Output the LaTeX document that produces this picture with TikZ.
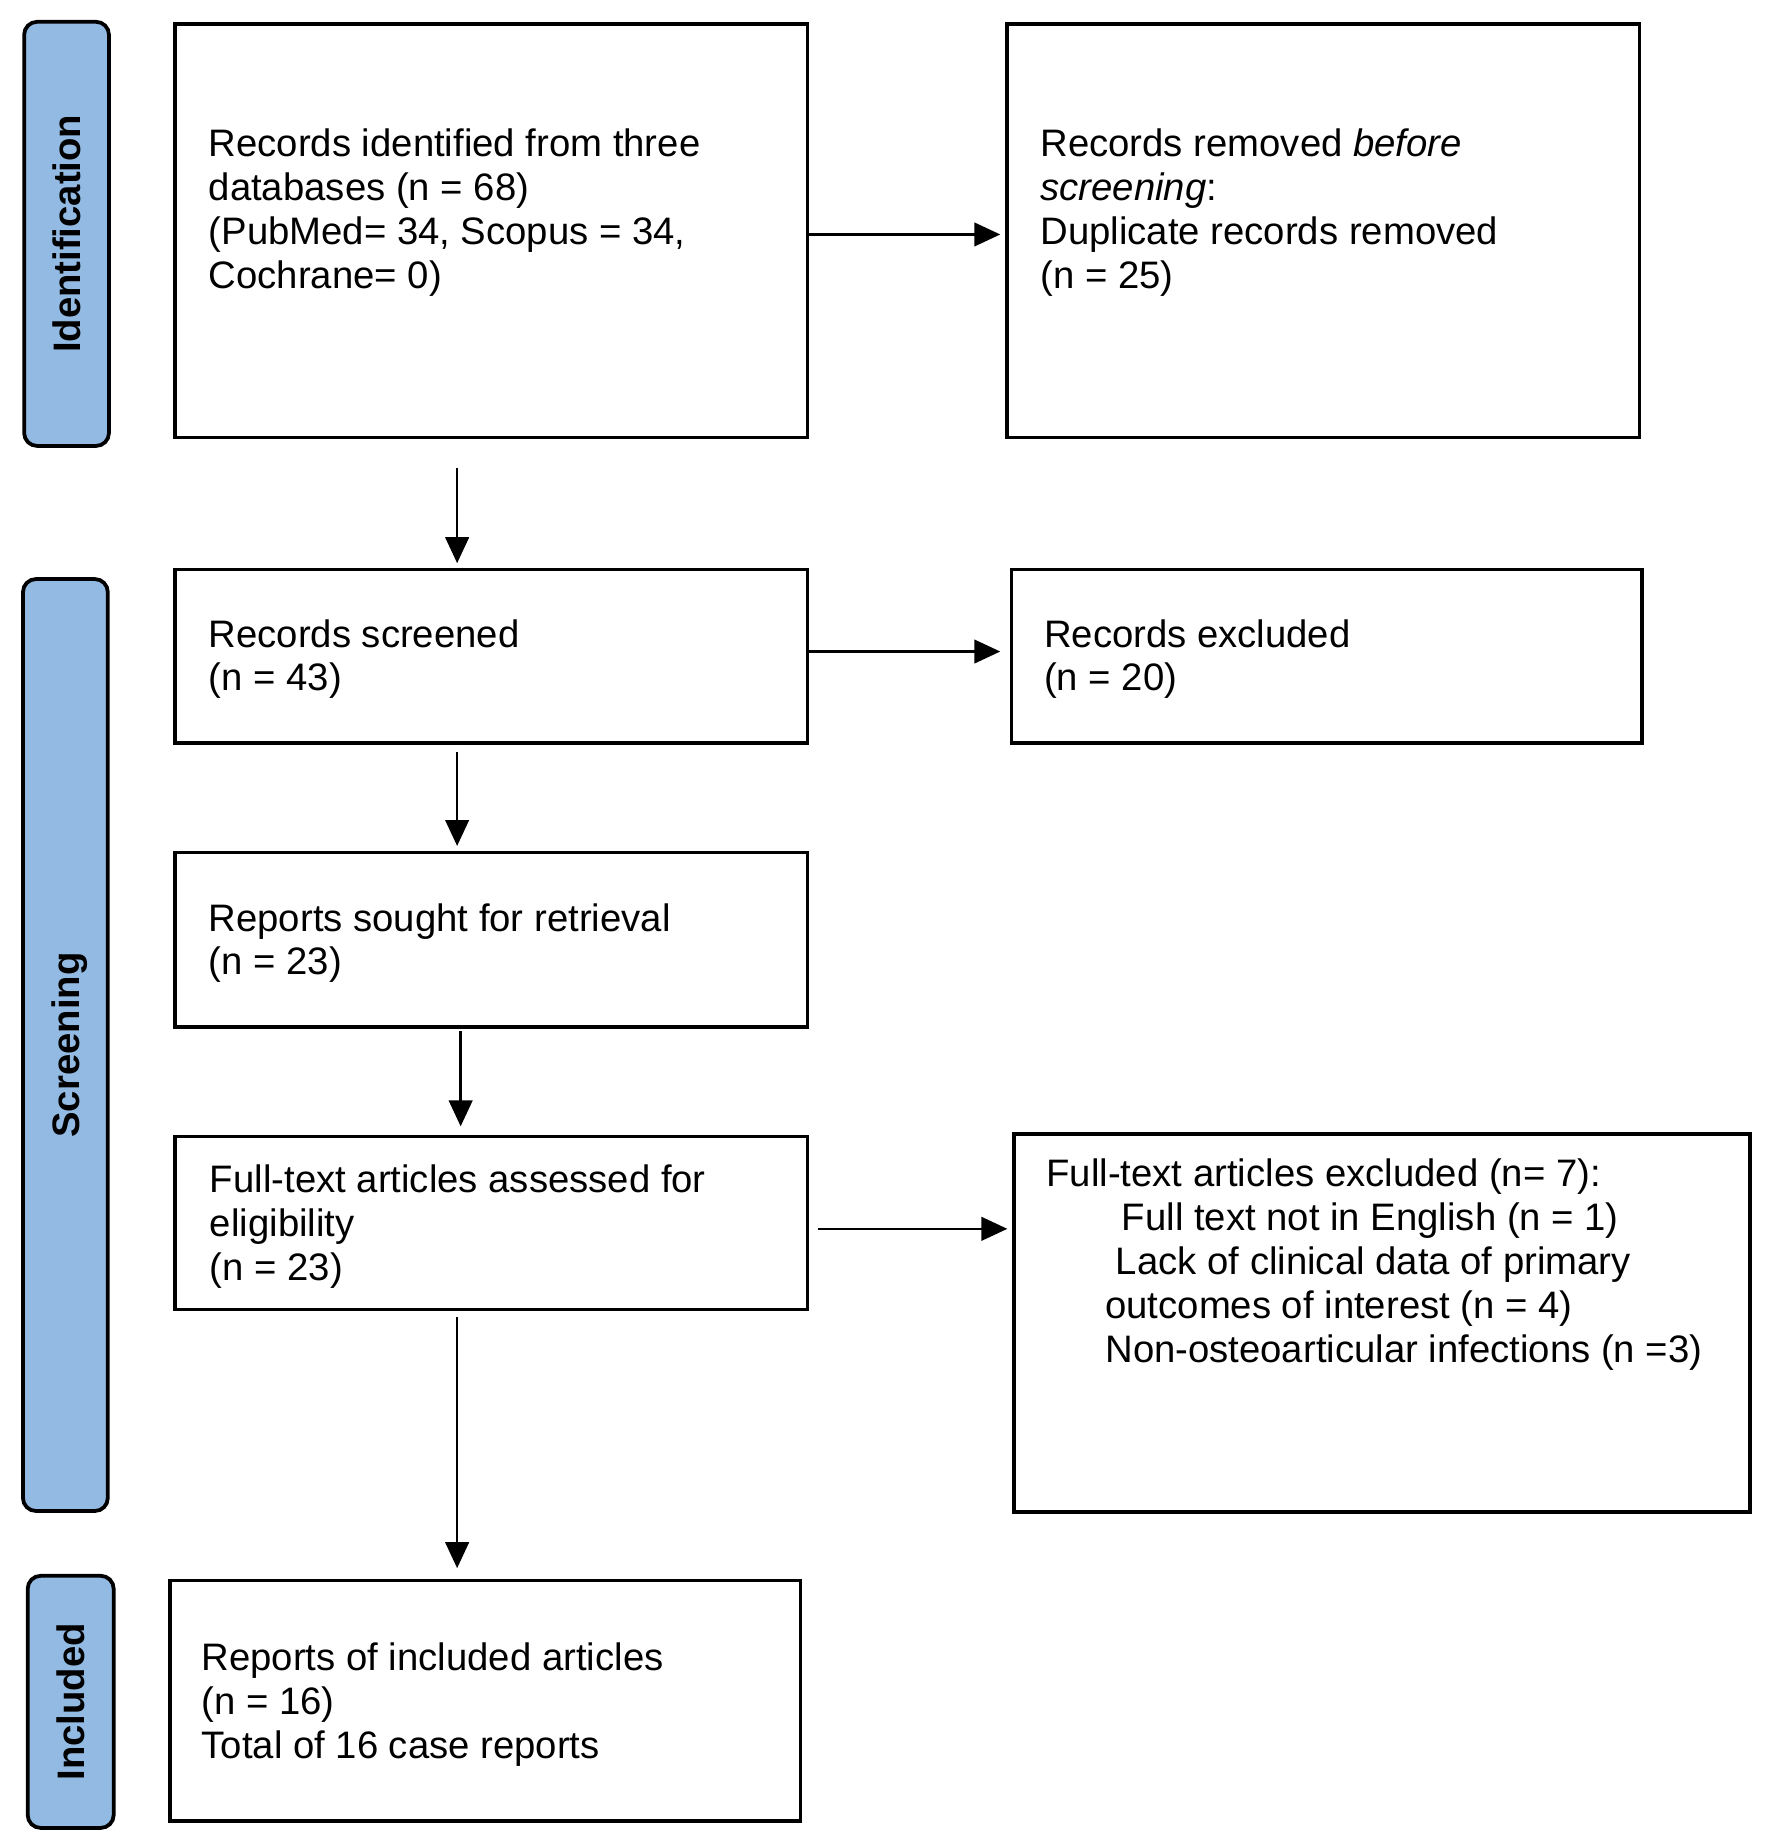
\documentclass[tikz,border=0pt]{standalone}
\usepackage{fontspec}
\setmainfont{Liberation Sans}
\usetikzlibrary{arrows.meta}
\definecolor{tabblue}{RGB}{146,186,226}
\begin{document}
\begin{tikzpicture}[x=1pt,y=-1pt,
  box/.style={draw=black, line width=3pt, fill=white, inner sep=0pt, anchor=north west},
  tab/.style={draw=black, line width=3.2pt, fill=tabblue, rounded corners=11pt, rotate=90,
    font=\fontsize{32.5}{37.4}\selectfont\bfseries, inner sep=0pt, text height=23.5pt, text depth=0pt},
  txt/.style={anchor=north west, inner sep=0pt, align=left, font=\fontsize{32.5}{37.2}\selectfont},
  arr/.style={-{Triangle[length=22pt,width=20pt]}, line width=2pt}]
\useasboundingbox (0,0) rectangle (1504,1566);

% phase tabs
\node[tab, minimum width=360pt, minimum height=72pt] (tabid) at (56.5,198.5) {Identification};
\node[tab, minimum width=791pt, minimum height=72pt] (tabscr) at (55.5,887) {Screening};
\node[tab, minimum width=214pt, minimum height=73pt] (tabinc) at (60,1444.5) {Included};

% boxes
\node[box, minimum width=537pt, minimum height=351pt] (id)   at (147,19) {};
\node[box, minimum width=537pt, minimum height=351pt] (rem)  at (853,19) {};
\node[box, minimum width=537pt, minimum height=147pt] (scr)  at (147,482) {};
\node[box, minimum width=535pt, minimum height=147pt] (exc)  at (857,482) {};
\node[box, minimum width=537pt, minimum height=148pt] (sou)  at (147,722) {};
\node[box, minimum width=537pt, minimum height=147pt] (ft)   at (147,963) {};
\node[box, minimum width=625pt, minimum height=321pt] (ftex) at (859,961) {};
\node[box, minimum width=535pt, minimum height=204pt] (inc)  at (143,1340) {};

% texts
\node[txt] (idt) at (177,107) {\strut Records identified from three\\databases (n = 68)\\(PubMed= 34, Scopus = 34,\\Cochrane= 0)};
\node[txt] (remt) at (883,107) {\strut Records removed \textit{before}\\\textit{screening}:\\Duplicate records removed\\(n = 25)};
\node[txt] (scrt) at (177,523) {\strut Records screened\\(n = 43)};
\node[txt] (exct) at (886,523) {\strut Records excluded\\(n = 20)};
\node[txt] (sout) at (177,764) {\strut Reports sought for retrieval\\(n = 23)};
\node[txt] (ftt) at (178,986) {\strut Full-text articles assessed for\\eligibility\\(n = 23)};
\node[txt] (ftext) at (888,981) {\strut Full-text articles excluded (n= 7):\\\hspace*{64pt}Full text not in English (n = 1)\\\hspace*{59pt}Lack of clinical data of primary\\\hspace*{50pt}outcomes of interest (n = 4)\\\hspace*{50pt}Non-osteoarticular infections (n =3)};
\node[txt] (inct) at (171,1392) {\strut Reports of included articles\\(n = 16)\\Total of 16 case reports};

% connectors
\draw[arr, shorten >=4pt] ([yshift=-3pt]id.east) -- ([yshift=-3pt]id.east -| rem.west);
\draw[arr, shorten <=24pt, shorten >=4pt] ([xshift=-29pt]id.south) -- ([xshift=-29pt]scr.north);
\draw[arr, shorten >=8pt] ([yshift=4pt]scr.east) -- ([yshift=4pt]scr.east -| exc.west);
\draw[arr, shorten <=6pt, shorten >=4pt] ([xshift=-29pt]scr.south) -- ([xshift=-29pt]sou.north);
\draw[arr, shorten <=2pt, shorten >=7pt] ([xshift=-26pt]sou.south) -- ([xshift=-26pt]ft.north);
\draw[arr, shorten <=7pt, shorten >=4pt] ([yshift=-5pt]ft.east) -- ([yshift=-5pt]ft.east -| ftex.west);
\draw[arr, shorten <=5pt, shorten >=9pt] ([xshift=-29pt]ft.south) -- ([xshift=-29pt]ft.south |- inc.north);
\end{tikzpicture}
\end{document}
